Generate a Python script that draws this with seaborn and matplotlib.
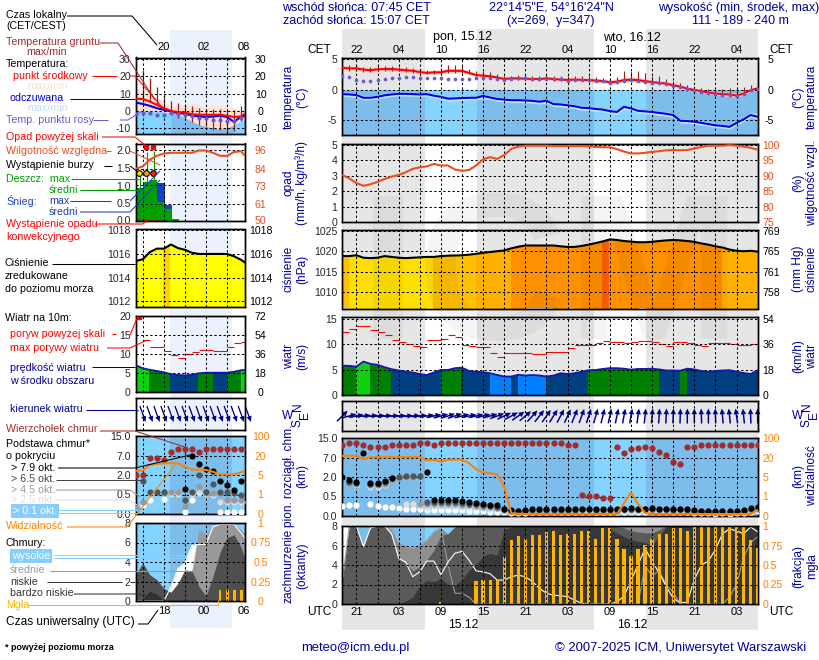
import numpy as np
import matplotlib
matplotlib.use("Agg")
import matplotlib.pyplot as plt
import seaborn as sns

nan = float("nan")

# --- main panel, hourly from 19 UTC ---
temp_mid = [3.6,3.5,3.5,3.3,3.2,3.35,3.4,3.4,3.3,3.2,3.1,2.9,2.75,2.85,2.85,3.1,3.1,3.1,2.75,2.4,2.3,2.2,2.0,1.75,1.85,1.85,1.8,1.75,1.75,1.85,1.75,1.65,1.6,1.65,1.6,1.55,1.5,1.4,1.2,1.3,1.55,1.65,1.55,1.4,1.25,1.1,1.0,0.7,0.5,0.15,-0.05,-0.25,-0.5,-0.65,-0.75,-0.8,-1.0,-0.65,-0.1,0.2]
temp_max = [4.0,3.9,3.9,3.7,3.6,3.75,3.8,3.8,3.7,3.6,3.5,3.3,3.1,3.2,3.25,3.5,3.5,3.4,3.1,2.7,2.6,2.5,2.3,2.1,2.2,2.2,2.1,2.1,2.1,2.2,2.1,2.0,1.9,2.0,1.95,1.9,1.85,1.75,1.6,1.8,2.0,2.1,2.0,1.8,1.6,1.5,1.4,1.1,0.8,0.5,0.2,0.05,-0.2,-0.35,-0.4,-0.45,-0.6,-0.2,0.2,0.5]
temp_min = [3.3,3.2,3.2,3.0,2.95,3.1,3.1,3.1,3.05,2.9,2.8,2.6,2.5,2.55,2.6,2.8,2.8,2.8,2.5,2.15,2.0,1.9,1.75,1.55,1.6,1.6,1.55,1.5,1.5,1.6,1.5,1.4,1.35,1.4,1.35,1.3,1.2,1.1,0.95,1.05,1.3,1.35,1.25,1.1,1.0,0.85,0.7,0.45,0.2,-0.1,-0.3,-0.5,-0.75,-0.9,-1.0,-1.1,-1.3,-0.9,-0.3,0.0]
ground_max = [nan,4.0,4.0,3.8,3.8,3.9,3.9,3.9,3.8,3.7,3.6,3.4,3.2,3.3,3.6,4.0,4.1,3.9,3.4,3.1,3.0,2.9,2.5,2.3,2.3,2.4,2.4,2.2,2.3,2.4,2.2,2.2,2.3,2.3,2.2,2.2,2.1,1.9,1.8,2.1,3.0,3.1,3.1,2.7,2.3,2.2,1.8,1.4,1.1,0.7,0.6,0.3,0.1,0.0,0.1,0.2,0.2,0.4,0.8,0.6]
ground_min = [nan,3.1,3.1,2.9,2.9,3.0,3.0,3.0,3.0,2.9,2.8,2.7,2.6,2.6,2.6,2.8,2.8,2.8,2.5,2.2,2.1,2.0,1.8,1.6,1.6,1.6,1.5,1.5,1.5,1.6,1.5,1.4,1.4,1.4,1.4,1.3,1.3,1.2,1.0,1.1,1.3,1.4,1.3,1.1,1.0,0.9,0.7,0.5,0.2,-0.2,-0.4,-0.6,-0.8,-1.0,-1.1,-1.1,-1.3,-0.9,-0.2,0.1]
dew_point = [2.3,2.0,1.6,1.4,1.4,1.65,1.8,1.9,1.95,2.0,2.0,1.95,1.9,1.9,1.9,1.8,1.75,1.75,1.8,1.85,1.9,1.9,1.7,1.6,1.8,1.9,1.9,1.75,1.7,1.7,1.8,1.75,1.5,1.6,1.65,1.55,1.45,1.35,1.15,1.3,1.5,1.55,1.45,1.3,1.15,1.05,0.9,0.65,0.45,0.1,-0.1,-0.35,-0.6,-0.75,-0.85,-0.9,-1.05,-0.7,-0.15,0.15]
feel_mid = [-0.75,-0.8,-0.9,-1.35,-1.35,-1.2,-0.95,-0.8,-0.7,-0.7,-0.75,-0.8,-0.75,-1.0,-1.2,-1.5,-1.45,-1.4,-1.35,-1.35,-1.05,-1.3,-1.55,-1.65,-1.75,-1.75,-1.8,-1.85,-2.0,-1.85,-2.4,-2.45,-2.6,-2.75,-3.0,-3.05,-3.2,-3.3,-3.55,-3.7,-2.85,-3.1,-3.5,-3.6,-3.7,-3.85,-4.0,-4.2,-5.15,-5.2,-5.3,-5.5,-5.7,-5.9,-6.0,-6.15,-5.5,-4.9,-4.2,-4.5]
feel_max = [-0.5,-0.5,-0.6,-1.0,-1.0,-0.9,-0.65,-0.5,-0.4,-0.4,-0.45,-0.5,-0.45,-0.7,-0.9,-1.2,-1.15,-1.1,-1.05,-1.05,-0.8,-1.0,-1.25,-1.35,-1.45,-1.45,-1.5,-1.55,-1.7,-1.6,-2.1,-2.15,-2.3,-2.45,-2.7,-2.75,-2.9,-3.0,-3.25,-3.4,-2.6,-2.85,-3.2,-3.3,-3.4,-3.55,-3.7,-3.9,-4.85,-4.9,-5.0,-5.2,-5.4,-5.6,-5.7,-5.8,-5.1,-4.5,-3.8,-4.0]
feel_min = [-1.1,-1.2,-1.3,-1.7,-1.7,-1.55,-1.3,-1.15,-1.05,-1.05,-1.1,-1.15,-1.1,-1.4,-1.6,-1.9,-1.85,-1.8,-1.7,-1.7,-1.45,-1.7,-1.95,-2.05,-2.15,-2.15,-2.2,-2.25,-2.4,-2.25,-2.8,-2.85,-3.0,-3.15,-3.4,-3.45,-3.6,-3.7,-3.95,-4.1,-3.3,-3.5,-3.9,-4.0,-4.1,-4.25,-4.4,-4.6,-5.5,-5.6,-5.7,-5.85,-6.05,-6.25,-6.35,-6.5,-5.9,-5.3,-4.6,-4.9]
humidity = [90.2,89.1,87.6,86.7,87.2,88.0,88.9,89.7,90.2,91.1,92.2,92.7,93.0,93.8,93.3,93.3,92.0,91.6,91.8,93.3,95.3,96.0,95.4,96.7,98.7,99.4,99.7,99.7,99.7,99.7,99.6,99.6,99.6,99.6,99.6,99.5,99.3,99.2,99.2,98.6,97.8,97.2,97.2,97.4,97.7,97.9,98.2,98.3,98.2,98.3,98.8,99.3,99.7,99.7,99.7,99.9,99.7,99.4,99.0,98.4]
pressure = [1018.8,1018.8,1019.0,1018.4,1018.3,1018.4,1018.8,1018.6,1018.4,1018.3,1018.4,1018.5,1018.6,1018.6,1018.8,1018.9,1018.95,1019.0,1019.15,1019.35,1019.6,1019.8,1020.0,1020.2,1020.7,1021.1,1021.4,1021.4,1021.4,1021.4,1021.4,1021.2,1021.05,1021.05,1021.3,1021.6,1022.0,1022.4,1022.9,1022.75,1022.5,1022.35,1022.2,1022.2,1022.3,1022.5,1022.65,1022.75,1022.65,1022.5,1022.3,1021.9,1021.6,1021.2,1020.9,1020.4,1020.1,1020.0,1020.1,1019.9]
pressure_class = [1]+[0]*12+[1]*6+[2]*5+[3]*13+[4]+[3]*16+[2]*5
wind_speed = [5.8,5.75,5.6,6.6,6.15,5.95,5.5,5.1,4.85,4.6,4.45,4.15,3.95,4.45,4.95,4.95,5.3,5.4,4.75,4.6,4.5,4.3,3.95,3.65,3.65,4.0,3.85,3.95,3.85,3.65,3.85,4.3,4.15,4.3,4.6,4.9,4.95,5.15,5.3,5.3,5.2,5.0,5.15,5.15,5.2,5.05,4.85,4.85,4.8,5.2,5.05,4.75,4.6,4.75,4.85,4.9,4.6,4.35,4.15,4.9]
wind_class = [2]*2+[3]*2+[2]*3+[1]*7+[2]*3+[1]*4+[0]*3+[1]+[0]*4+[1]*6+[2]*10+[1]*3+[2]+[1]*10
wind_gust = [12.4,13.0,13.7,13.7,12.9,12.4,11.8,10.9,10.4,10.1,9.65,9.45,10.9,10.9,11.1,11.8,11.4,9.85,9.65,9.45,9.45,8.3,7.5,8.25,8.25,8.25,8.25,8.05,8.05,8.45,8.45,8.45,9.25,9.85,9.85,9.85,10.3,10.6,10.4,10.4,10.25,10.4,10.6,10.6,10.4,10.05,9.65,10.4,10.4,10.25,9.85,9.65,10.25,10.25,10.25,10.05,9.9,9.9,10.05]
wind_angle = [45,14,10,6,5,4,4,3,3,3,4,6,8,12,15,18,18,14,12,12,13,15,20,25,28,35,40,48,52,55,58,62,65,68,70,72,74,76,78,78,80,80,82,84,85,86,87,88,88,90,90,92,90,92,95,96,98,96,92,90]
cloud_top = [12.3,12.8,12.8,12.0,11.3,11.3,11.3,12.0,12.0,12.0,12.0,12.8,12.8,12.3,12.8,12.8,12.8,12.8,12.8,12.8,12.8,12.8,12.8,12.8,12.8,12.8,12.8,12.8,12.8,12.8,12.8,12.8,12.0,12.0,0.65,0.52,0.52,0.47,0.47,11.3,9.0,10.4,10.9,11.3,10.9,9.4,8.0,5.8,5.3,11.3,11.3,12.0,12.0,12.0,12.0,12.0,12.0,12.0,12.0,12.0]
base_79 = [2.1,1.78,1.6,8.8,1.52,1.52,1.7,1.96,nan,nan,nan,nan,3.3,0.41,0.41,0.4,0.41,0.38,0.36,0.33,0.31,0.29,0.27,0.19,0.155,0.14,0.155,0.17,0.17,0.17,0.17,0.17,0.17,0.17,0.19,0.19,0.17,0.17,0.17,0.17,0.19,0.21,0.19,0.19,0.21,0.19,0.19,0.17,0.19,0.17,0.155,0.14,0.14,0.13,0.14,0.13,0.14,0.155,0.2,0.23]
base_65 = [nan,1.65,1.55,nan,1.45,1.45,1.6,1.9,2.1,2.2,2.2,2.3,0.36,0.36,0.36,0.35,0.36,0.34,0.32,0.3,0.28,0.26,0.24,0.17,0.14,0.125,0.14,0.15,0.15,0.15,0.15,0.15,0.15,0.15,0.17,0.17,0.15,0.15,0.15,0.15,0.17,0.19,0.17,0.17,0.19,0.17,0.17,0.15,0.17,0.15,0.14,0.125,0.125,0.115,0.125,0.115,0.125,0.14,0.18,0.2]
base_45 = [nan,1.55,1.45,nan,1.35,1.35,1.5,1.8,2.1,2.2,2.2,0.31,0.3,0.3,0.3,0.3,0.3,0.29,0.27,0.26,0.24,0.22,0.2,0.15,0.12,0.11,0.12,0.13,0.13,0.13,0.13,0.13,0.13,0.13,0.15,0.15,0.13,0.13,0.13,0.13,0.15,0.16,0.15,0.15,0.16,0.15,0.15,0.13,0.15,0.13,0.12,0.11,0.11,0.1,0.11,0.1,0.11,0.12,0.15,0.17]
base_25 = [nan,nan,1.35,nan,1.25,1.25,1.4,nan,nan,0.31,0.31,0.26,0.24,0.25,0.25,0.25,0.25,0.24,0.22,0.22,0.2,0.18,0.17,0.13,0.1,0.09,0.1,0.11,0.11,0.11,0.11,0.11,0.11,0.11,0.13,0.13,0.11,0.11,0.11,0.11,0.13,0.14,0.13,0.13,0.14,0.13,0.13,0.11,0.13,0.11,0.1,0.09,0.09,0.08,0.09,0.08,0.09,0.1,0.13,0.15]
base_01 = [0.26,0.27,0.27,nan,0.31,0.26,0.24,0.23,0.2,0.18,0.18,0.18,0.16,0.15,0.16,0.16,0.16,0.15,0.13,0.12,0.12,0.11,0.11,0.1,0.08,0.07,0.08,0.09,0.09,0.09,0.09,0.09,0.09,0.09,0.1,0.1,0.09,0.09,0.09,0.09,0.1,0.11,0.1,0.1,0.11,0.1,0.1,0.09,0.1,0.09,0.08,0.07,0.07,0.06,0.07,0.06,0.07,0.08,0.1,0.12]
visibility = [27,27,27,18.8,21,21.5,21.5,21.5,21.5,21.5,21.7,21.7,17.7,18.2,16.7,18.3,18.3,18.3,15.7,11,8.5,7.8,7,3.04,0.14,0.12,0.1,0.1,0.1,0.1,0.1,0.1,0.1,0.1,0.1,0.1,0.1,0.1,0.1,0.1,0.65,1.8,0.62,0.17,0.1,0.1,0.1,0.1,0.1,0.1,0.1,0.1,0.1,0.1,0.1,0.1,0.1,0.1,0.1,0.31]
cloud_high = [8,8,8,5.9,7.8,8,8,7.2,4.7,4.3,2.8,3.3,4.4,4.4,3.0,4.3,5.2,5.4,4.5,3.4,3.3,3.1,2.45,2.45,2.8,2.95,2.8,2.3,1.6,1.1,0.9,0.85,0.75,0.4,0.07,0,0,0,0,0.2,0.8,2.4,4.0,5.7,4.4,3.2,1.8,0.6,0.1,0.2,2.5,4.0,4.4,5.6,7.2,7.7,7.5,7.2,7.9,7.4]
cloud_mid = [2.4,8,8,5.9,7.8,8,8,7.6,6.2,5.9,5.7,6.0,6.5,7.4,7.8,4.1,1.1,1.1,0.7,0,0,0,0,0,0,0,0,0,0,0,0,0,0,0,0,0,0,0,0,0,0,0,0,3.9,2.9,3.4,2.0,1.2,0,0,0,0,0,0,0,0.7,2.0,4.8,6.3,6.9]
cloud_total = [2.4,8,8,5.9,7.8,8,8,7.6,6.2,5.9,5.7,6.0,6.5,7.4,7.8,7.2,7.9,8,8,8,8,8,8,8,8,8,8,8,8,8,8,8,8,8,8,8,8,8,8,8,8,8,8,7.95,7.95,8,8,8,8,8,8,8,8,8,8,8,8,8,8,8]
cloud_low = [2.4,8,8,5.8,7.9,8,8,7,4.6,4.2,3.4,3.8,4.5,5.5,7,7.2,7.9,8,8,8,8,8,8,8,8,8,8,8,8,8,8,8,8,8,8,8,8,8,8,8,7.8,7.5,7.4,7.3,7.3,7.6,8,8,8,8,8,8,8,8,8,8,8,8,8,8]
cloud_vlow = [0,0,0,0,0,0,0,0,0,0.3,0.7,1.9,2.4,2.3,2.6,2.0,1.9,2.5,3.5,4.0,4.9,5.2,5.0,7.6,7.9,8,8,8,8,8,8,8,8,8,8,8,8,8,7.7,7.3,6.9,6.6,6.4,6.3,6.0,7.0,7.9,8,8,8,8,8,8,8,8,8,8,8,8,8]
fog = [0,0,0,0,0,0,0,0,0,0,0,0,0,0,0.02,0,0,0,0,0.30,0.31,0.31,0.31,0.60,0.82,0.87,0.83,0.89,0.88,0.92,0.93,0.88,0.90,0.90,0.94,0.94,0.83,0.98,0.97,0.83,0.70,0.61,0.70,0.76,0.83,0.90,0.90,0.97,0.97,0.94,1,1,1,1,1,1,1,1,0.82,0.72]

# --- legend panel, hourly ---
s_temp = [7,6.9,5.4,3.5,1.5,0,-0.8,-1,-2,-2.3,-2.3,-2.3,-2.3,-2.9,-3.6,-3.3,-0.4]
s_temp_max = [13.6,11,10,7.3,5.4,2.5,3.5,3.5,4.4,3.5,2.5,2.9,2.9,2.5,1.5,-0.4,1.5]
s_blue_top = [0,0,0,0,-0.5,-1,-2,-4,-6,-8,-9,-10,-10.5,-10,-8,-5.5,-4.5]
s_feel = [4.8,4,2.9,1.5,0.6,-0.4,-1.3,-1.7,-2.7,-3.3,-3.6,-3.3,-2.9,-3.6,-6.5,-3.3,-2.9]
s_dew = [-2,-1.3,-1.3,-2.3,-2.7,-1.3,-1.7,-2.3,-3.3,-4.2,-4.2,-5.2,-5.2,-6.2,-5.8,-4.2,nan]
s_ground_max = [nan,24,19,13.6,9,5.7,4.8,3.5,2.5,1.5,1,1,1,0.6,0.6,2.5,nan]
s_ground_min = [nan,7,5,3.5,1.5,-1.8,-4.3,-4.3,-6.5,-8,-9,-11,-11,-13,-12,-6,nan]
s_rain = [0.93,1.1,1.17,0.52,0.33,0.05]
s_snow = [0,0,0,1.08,0.43,0]
s_rain_max = [1.4,1.95,2.0,nan,nan,nan]
s_humidity = [84,85.5,90,92.5,94,94.5,94.5,94.5,94.5,96,96,94.5,92.5,92.5,95,95.5,90]
s_pressure = [1015.4,1015.55,1016.15,1016.45,1016.45,1016.8,1016.5,1016.35,1016.1,1016,1016,1016,1016,1016,1015.8,1015.5,1015.1]
s_pressure_class = [0,0,0,0,1]+[0]*11
s_wind = [7,6.2,5.8,5.5,5.15,4.7,4.45,4.35,4.5,4.9,5.05,5.05,5.05,5.05,5.3,5.7,5.8]
s_wind_class = [3,3,2,2,2,1,1,1,1,2,2,1,1,2,2,3]
s_gust = [nan,13.5,11.8,11.8,10.65,9.7,8.9,9.9,10.5,10.9,10.9,10.65,10.65,11.8,12.75,13]
s_angle = [-70]*17
s_top = [2,2,6.3,6.3,5.9,8.6,9.6,9.6,9.6,8.6,9.6,9.6,9.6,9.6,9.6,9.6,9.6]
s_b79 = [nan,nan,nan,nan,nan,nan,nan,0.9,7.0,4.75,3.6,3.1,1.55,1.25,0.87,1.55,1.95]
s_b65 = [nan,1.55,0.7,0.7,0.7,nan,nan,0.37,0.7,2.0,0.7,1.3,0.7,0.7,0.6,0.5,1.5]
s_b45 = [0.15,0.3,nan,nan,0.62,0.7,0.7,0.2,0.7,1.16,0.62,0.6,0.6,0.35,0.35,0.35,0.3]
s_b25 = [nan,nan,nan,nan,nan,0.55,0.55,nan,0.55,0.6,0.55,0.5,0.3,0.3,0.3,0.3,0.3]
s_b01 = [nan,0.24,0.37,nan,0.38,nan,nan,0.06,0.37,nan,nan,nan,0.06,0.06,0.06,0.06,nan]
s_vis = [8.3,8.3,12.8,13.5,14,14,14,11.4,9.4,9,8.9,7.5,5.5,5.5,5.5,7,8.9]
s_high = [0,0,0,0,0,1.4,3.3,3.9,5.7,5.8,5.8,7.6,7.85,7.85,7.85,7,6]
s_mid = [0,0,0,0,0,0,0.5,3,3.1,7.3,6.8,7.7,7.85,7.85,7.85,7.3,6.5]
s_low = [2.7,3.9,2.7,2.2,1.3,0.9,1.8,3.2,3.1,1.5,0.5,2.5,5.0,6.5,6.8,5.5,3.4]
s_vlow = [0,0.2,1.0,0.7,0,0,0,0,0,0,0,0,0,0,0,0,0]
s_fog = [0,0,0,0,0,0,0,0,0,0,0,0,0.14,0.14,0.14,0.14,0]

cet_labels = ["22","04","10","16","22","04","10","16","22","04"]
utc_labels = ["21","03","09","15","21","03","09","15","21","03"]

sns.set_style("white")
plt.rcParams["font.family"] = ["Liberation Sans", "DejaVu Sans"]
plt.rcParams["font.size"] = 8.6

W, H = 820, 660
L_SIZE = 7.7
T_SIZE = 7.6
NAVY = "#000099"
ORANGE = "#ff8000"
RHC = "#e8501e"
fig = plt.figure(figsize=(W / 100, H / 100), dpi=100, facecolor="white")

hours = np.arange(60)
s_hours = np.arange(17)
nights = [(0, 11.75), (19.1, 35.75), (43.1, 59)]
days = [(11.75, 19.1), (35.75, 43.1)]
MX0, MPX = 342.3, 7.04


def pixel_axes(zorder):
    a = fig.add_axes([0, 0, 1, 1], zorder=zorder)
    a.set_xlim(0, W)
    a.set_ylim(H, 0)
    a.axis("off")
    a.patch.set_alpha(0)
    return a


bg = pixel_axes(0)
top = pixel_axes(10)


def right_labels(tw, mode):
    # main panels: left aligned, temperature right aligned, legend panels centred
    pads = {"left": 3.3, "right": 11.4, "center": 11}
    tw.tick_params(axis="y", which="both", length=0, labelsize=T_SIZE, pad=pads[mode])
    for lab in tw.get_yticklabels():
        lab.set_ha(mode)


def panel(box, xlim, xgrid, ylim, yticks, ylabels, tw_lim, tw_ticks, tw_labels,
          tw_color="black", mode="left"):
    l, t, r, b = box
    ax = fig.add_axes([l / W, 1 - b / H, (r - l) / W, (b - t) / H], zorder=2)
    ax.patch.set_alpha(0)
    tw = ax.twinx()
    tw.set_zorder(3)
    for a in (ax, tw):
        a.set_xlim(*xlim)
        a.set_xticks(xgrid)
        for s in a.spines.values():
            s.set_linewidth(1.0)
            s.set_color("black")
    ax.set_ylim(*ylim)
    tw.set_ylim(*tw_lim)
    ax.set_yticks(yticks, ylabels)
    tw.set_yticks(tw_ticks, tw_labels)
    ax.tick_params(axis="both", length=0, labelbottom=False, labelsize=T_SIZE, pad=3.6)
    ax.grid(False)
    tw.xaxis.set_visible(True)
    tw.tick_params(axis="x", length=0, labelbottom=False)
    tw.tick_params(axis="y", labelcolor=tw_color)
    right_labels(tw, mode)
    tw.set_axisbelow(False)
    tw.grid(True, color="black", linestyle=(0, (2.2, 2.2)), linewidth=0.75)
    return ax, tw


def curve(ax, x, y, color, lw=1.5, z=3):
    sns.lineplot(x=x, y=y, color=color, linewidth=lw, ax=ax, zorder=z, legend=False)


def dots(ax, x, y, color, size=14, z=3):
    sns.scatterplot(x=x, y=y, color=color, s=size, linewidth=0, ax=ax, zorder=z, legend=False)


def stripes(ax, x, y, classes, palette, floor):
    # aliased so that neighbouring hourly columns leave no seams
    for i, c in enumerate(classes):
        ax.fill_between(x[i:i + 2], floor, y[i:i + 2], facecolor=palette[c], edgecolor="none",
                        linewidth=0, antialiased=False, zorder=1)


def txt(x, y, s, color="black", ha="left", size=L_SIZE, rot=0, **kw):
    top.text(x, y, s, color=color, ha=ha, va="center", fontsize=size, rotation=rot, **kw)


def lead(color, *pts, lw=0.75):
    xs, ys = zip(*pts)
    top.plot(xs, ys, color=color, linewidth=lw, solid_capstyle="butt")


def night_day_fill(ax, floor, ceil, night_c="#7cbdec", day_c="#85d3ff"):
    for a, b in nights:
        ax.fill_between([a, b], floor, ceil, color=night_c, linewidth=0, zorder=0.5)
    for a, b in days:
        ax.fill_between([a, b], floor, ceil, color=day_c, linewidth=0, zorder=0.5)


def legend_blue(ax, x, floor, ceil):
    ax.fill_between(x, floor, ceil, color="#85d3ff", linewidth=0, zorder=0.4)


# backdrop bands
for a, b in nights:
    bg.fill_between([MX0 + a * MPX, MX0 + b * MPX], 29, 630, color="#e6e6e6", linewidth=0)
bg.fill_between([170, 232], 30, 628, color="#ebf2fd", linewidth=0)

M_X = (0, 59)
M_GRID = list(range(2, 60, 3))
S_X = (0, 15.6)
S_GRID = [1, 4, 7, 10, 13]
M_L, M_R = 342.3, 757.7
S_L, S_R = 135.7, 245.3

# ---------- temperature, main ----------
ax, tw = panel((M_L, 57.5, M_R, 135), M_X, M_GRID, (-7.5, 5.3), [-5, 0, 5], ["-5", "0", "5"],
               (-7.5, 5.3), [-5, 0, 5], ["-5", "0", "5"], mode="right")
night_day_fill(ax, -7.5, 0)
ax.fill_between(hours, temp_min, temp_max, color="#ffc8c8", linewidth=0, zorder=1)
ax.fill_between(hours, feel_min, feel_max, color="#bfe6ff", linewidth=0, zorder=1)
ax.vlines(hours, ground_min, ground_max, color="#a01c1c", linewidth=0.8, zorder=2)
curve(tw, hours, temp_mid, "#ff0000")
curve(tw, hours, feel_mid, "#0000e0")
dots(tw, hours, dew_point, "#6a5acd", size=7)
tw.set_ylim(-7.5, 5.3)

# ---------- precipitation / humidity, main ----------
ax, tw = panel((M_L, 144, M_R, 222), M_X, M_GRID, (0, 5.05), [0, 1, 2, 3, 4, 5], list("012345"),
               (75, 100.25), [75, 80, 85, 90, 95, 100], ["75", "80", "85", "90", "95", "100"], RHC)
curve(tw, hours, humidity, RHC)
tw.set_ylim(75, 100.25)

# ---------- pressure, main ----------
ax, tw = panel((M_L, 230, M_R, 308.5), M_X, M_GRID, (1005.95, 1025.2), [1010, 1015, 1020, 1025],
               ["1010", "1015", "1020", "1025"], (1005.95, 1025.2), [1010, 1015, 1020, 1025],
               ["758", "761", "765", "769"])
stripes(ax, hours, pressure, pressure_class, ["#ffdf00", "#ffc000", "#ffb000", "#ff9000", "#ff6000"], 1005.95)
curve(tw, hours, pressure, "black")
tw.set_ylim(1005.95, 1025.2)

# ---------- wind, main ----------
ax, tw = panel((M_L, 317, M_R, 395), M_X, M_GRID, (0, 15.4), [0, 5, 10, 15], ["0", "5", "10", "15"],
               (0, 15.4), [0, 5, 10, 15], ["0", "18", "36", "54"])
stripes(ax, hours, wind_speed, wind_class, ["#0080ff", "#004080", "#008000", "#10d010"], 0)
ax.hlines(wind_gust, hours[:-1], hours[1:], color="#ff0000", linewidth=0.8, zorder=2)
curve(tw, hours, wind_speed, "#1818a8", lw=1.3)
tw.set_ylim(0, 15.4)

# ---------- wind direction, main ----------
ax, tw = panel((M_L, 401, M_R, 431), M_X, M_GRID, (-1, 1), [], [], (-1, 1), [], [])
rad = np.radians(wind_angle)
ax.quiver(hours, np.zeros(60), np.cos(rad), np.sin(rad), angles="uv", units="dots",
          scale_units="dots", scale=1 / 15, pivot="mid", width=1.5, headwidth=3.6,
          headlength=3.8, headaxislength=3.8, color="#000090", zorder=3, clip_on=False)

# ---------- cloud base, both panels use the same piecewise scale ----------
km_ticks = [0, 0.5, 2, 7, 15]
vis_ticks = [0, 1, 5, 20, 100]
pos_ticks = [0, 1, 2, 3, 4]


def set_piecewise(a, ticks, lim, labels, mode=None):
    a.set_yscale("function", functions=(lambda v: np.interp(v, ticks, pos_ticks),
                                        lambda p: np.interp(p, pos_ticks, ticks)))
    a.set_ylim(*lim)
    a.minorticks_off()
    a.set_yticks(ticks, labels)
    a.tick_params(axis="y", which="both", length=0)
    if mode:
        right_labels(a, mode)


def km_to_vis(v):
    return np.interp(np.interp(v, km_ticks, pos_ticks), pos_ticks, vis_ticks)


def base_panel(box, x, top_s, b79, b65, b45, b25, b01, vis, xlim, grid, mode):
    km_lab = ["0.0", "0.5", "2.0", "7.0", "15.0"]
    vis_lab = ["0", "1", "5", "20", "100"]
    ax, tw = panel(box, xlim, grid, (0, 15), km_ticks, km_lab,
                   (0, 100), vis_ticks, vis_lab, ORANGE, mode=mode)
    set_piecewise(ax, km_ticks, (0, 15), km_lab)
    if mode == "left":
        night_day_fill(ax, 0, 15)
    else:
        legend_blue(ax, x, 0, 15)
        ax.fill_between([4.9, 13.7], 0, 15, color="#7cbdec", linewidth=0, zorder=0.5)
    sizes = 20
    dots(tw, x, km_to_vis(b01), "white", size=sizes, z=2.6)
    dots(tw, x, km_to_vis(b25), "#dddddd", size=sizes, z=2.7)
    dots(tw, x, km_to_vis(b45), "#999999", size=sizes, z=2.8)
    dots(tw, x, km_to_vis(b65), "#555555", size=sizes, z=2.9)
    dots(tw, x, km_to_vis(b79), "black", size=sizes, z=3)
    dots(tw, x, km_to_vis(top_s), "#a52a2a", size=sizes, z=3)
    curve(tw, x, vis, ORANGE, z=3.2)
    set_piecewise(tw, vis_ticks, (0, 100), vis_lab, mode)
    tw.set_xlim(*xlim)
    ax.set_xlim(*xlim)
    return ax, tw


base_panel((M_L, 438, M_R, 516), hours, cloud_top, base_79, base_65, base_45, base_25, base_01,
           visibility, M_X, M_GRID, "left")

# ---------- clouds and fog, main ----------
ax, tw = panel((M_L, 526, M_R, 604), M_X, M_GRID, (0, 8), [0, 2, 4, 6, 8], list("02468"),
               (0, 1), [0, 0.25, 0.5, 0.75, 1], ["0", "0.25", "0.5", "0.75", "1"], ORANGE)
night_day_fill(ax, 0, 8)
ax.fill_between(hours, 0, cloud_high, color="white", linewidth=0, zorder=1)
ax.fill_between(hours, 0, cloud_total, color="#8f8f8f", linewidth=0, zorder=1.1)
ax.fill_between(hours, 0, cloud_low, color="#5a5a5a", linewidth=0, zorder=1.2)
ax.fill_between(hours, 0, cloud_vlow, color="#383838", linewidth=0, zorder=1.3)
curve(ax, hours, cloud_mid, "#9a9a9a", lw=0.8, z=2)
curve(ax, hours, cloud_high, "white", lw=0.8, z=2.1)
tw.bar(hours, fog, width=0.46, color="#ffb400", linewidth=0, antialiased=False, zorder=2)
ax.set_ylim(0, 8)
ax.set_xlim(*M_X)
tw.set_ylim(0, 1)
tw.set_xlim(*M_X)

# ---------- temperature, legend ----------
ax, tw = panel((S_L, 57.5, S_R, 134), S_X, S_GRID, (-13.5, 31), [-10, 0, 10, 20, 30],
               ["-10", "0", "10", "20", "30"], (-13.5, 31), [-10, 0, 10, 20, 30],
               ["-10", "0", "10", "20", "30"], mode="center")
legend_blue(ax, s_hours, -13.5, s_blue_top)
xs_band = s_hours[5:15]
ax.fill_between(xs_band, -13.5, s_blue_top[5:15], color="#7cbdec", linewidth=0, zorder=0.5)
ax.fill_between(s_hours, s_blue_top, s_temp_max, color="#fde3d6", linewidth=0, zorder=1)
ax.vlines(s_hours, s_ground_min, s_ground_max, color="#a01c1c", linewidth=0.9, zorder=2)
curve(tw, s_hours, s_feel, "#0000e0")
curve(tw, s_hours, s_temp, "#ff0000")
dots(tw, s_hours, s_dew, "#6a5acd", size=9)
ax.set_xlim(*S_X)
tw.set_xlim(*S_X)
tw.set_ylim(-13.5, 31)

# ---------- precipitation, legend ----------
ax, tw = panel((S_L, 143.5, S_R, 220.5), S_X, S_GRID, (0, 2.2), [0, 0.5, 1, 1.5, 2],
               ["0.0", "0.5", "1.0", "1.5", "2.0"], (50, 100.6), [50, 61, 73, 84, 96],
               ["50", "61", "73", "84", "96"], RHC, mode="center")
bar_x = np.arange(6) + 0.6
ax.bar(bar_x, s_snow, width=1, color="#1a3ec8", linewidth=0, zorder=1)
ax.bar(bar_x, s_rain, width=1, color="#00a000", linewidth=0, zorder=1.1)
ax.vlines(bar_x, s_rain, s_rain_max, color="#00a000", linewidth=0.9, zorder=2)
ax.hlines(0.01, 0, 4.2, color="#ff0000", linewidth=1, linestyle=(0, (3, 2)), zorder=2)
curve(tw, s_hours, s_humidity, RHC)
dots(ax, bar_x[:3] - 0.1, [1.35, 1.35, 1.35], "black", size=24, z=3)
for xp, col in zip(bar_x[:3] - 0.1, ["#ffe000", "#ffa000", "#ff2000"]):
    dots(ax, [xp], [1.35], col, size=11, z=3.1)
ax.scatter(bar_x[1:3] - 0.1, [2.1, 2.1], marker="s", s=9, color="#ff0000", zorder=3)
ax.set_ylim(0, 2.2)
ax.set_xlim(*S_X)
tw.set_xlim(*S_X)
tw.set_ylim(50, 100.6)

# ---------- pressure, legend ----------
ax, tw = panel((S_L, 229.5, S_R, 306.5), S_X, S_GRID, (1011.55, 1018.07), [1012, 1014, 1016, 1018],
               ["1012", "1014", "1016", "1018"], (1011.55, 1018.07), [1012, 1014, 1016, 1018],
               ["1012", "1014", "1016", "1018"], mode="center")
stripes(ax, s_hours, s_pressure, s_pressure_class, ["#ffff00", "#ffd000"], 1011.55)
curve(tw, s_hours, s_pressure, "black")
tw.set_ylim(1011.55, 1018.07)
ax.set_xlim(*S_X)
tw.set_xlim(*S_X)

# ---------- wind, legend ----------
ax, tw = panel((S_L, 315.5, S_R, 392), S_X, S_GRID, (0, 20), [0, 5, 10, 15, 20], ["0", "5", "10", "15", "20"],
               (0, 72), [0, 18, 36, 54, 72], ["0", "18", "36", "54", "72"], mode="center")
stripes(ax, s_hours, s_wind, s_wind_class, ["#0080ff", "#004080", "#008000", "#10d010"], 0)
ax.hlines(s_gust, s_hours[:-1], s_hours[1:], color="#ff0000", linewidth=0.8, zorder=2)
ax.scatter([0.45], [19.6], marker="s", s=7, color="#ff0000", zorder=3)
curve(tw, s_hours, np.array(s_wind) * 3.6, "#1818a8", lw=1.3)
tw.set_ylim(0, 72)
ax.set_xlim(*S_X)
tw.set_xlim(*S_X)

# ---------- wind direction, legend ----------
ax, tw = panel((S_L, 398, S_R, 430), S_X, S_GRID, (-1, 1), [], [], (-1, 1), [], [], mode="center")
s_rad = np.radians(s_angle)
ax.quiver(s_hours[:16] + 1, np.zeros(16), np.cos(s_rad[:16]), np.sin(s_rad[:16]), angles="uv", units="dots",
          scale_units="dots", scale=1 / 17, pivot="mid", width=1.3, headwidth=4,
          headlength=4.5, headaxislength=4.5, color="#000090", zorder=3, clip_on=False)

# ---------- cloud base, legend ----------
base_panel((S_L, 436, S_R, 514), s_hours, s_top, s_b79, s_b65, s_b45, s_b25, s_b01, s_vis,
           S_X, S_GRID, "center")

# ---------- clouds, legend ----------
ax, tw = panel((S_L, 523, S_R, 601), S_X, S_GRID, (0, 8), [0, 2, 4, 6, 8], list("02468"),
               (0, 1), [0, 0.25, 0.5, 0.75, 1], ["0", "0.25", "0.5", "0.75", "1"], ORANGE, mode="center")
legend_blue(ax, s_hours, 0, 8)
ax.fill_between([4.9, 13.7], 0, 8, color="#7cbdec", linewidth=0, zorder=0.5)
ax.fill_between(s_hours, 0, s_high, color="white", linewidth=0, zorder=1)
ax.fill_between(s_hours, 0, s_mid, color="#999999", linewidth=0, zorder=1.1)
ax.fill_between(s_hours, 0, s_low, color="#4f4f4f", linewidth=0, zorder=1.2)
ax.fill_between(s_hours, 0, s_vlow, color="#303030", linewidth=0, zorder=1.3)
curve(ax, s_hours, s_high, "white", lw=0.8, z=2)
tw.bar(s_hours, s_fog, width=0.42, color="#ffb400", linewidth=0, zorder=2)
ax.set_ylim(0, 8)
ax.set_xlim(*S_X)
tw.set_ylim(0, 1)
tw.set_xlim(*S_X)

# ---------- header, footer, time labels ----------
txt(282, 8, "wschód słońca: 07:45 CET", NAVY, size=9)
txt(283, 21, "zachód słońca: 15:07 CET", NAVY, size=9)
txt(551, 8, "22°14'5\"E, 54°16'24\"N", NAVY, ha="center", size=9)
txt(551, 21, "(x=269,  y=347)", NAVY, ha="center", size=9)
txt(819, 8, "wysokość (min, środek, max)", NAVY, ha="right", size=9)
txt(740, 21, "111 - 189 - 240 m", NAVY, ha="center", size=9)
txt(463, 37, "pon, 15.12", ha="center", size=9)
txt(632, 37, "wto, 16.12", ha="center", size=9)
txt(301, 648, "meteo@icm.edu.pl", NAVY, size=9.4)
txt(555, 648, "© 2007-2025 ICM, Uniwersytet Warszawski", NAVY, size=9.4)
txt(5, 648, "* powyżej poziomu morza", size=6.4, fontweight="bold")
for side_x in (319, 781):
    txt(side_x, 50, "CET", ha="center", size=8.6)
    txt(side_x, 612, "UTC", ha="center", size=8.6)
for i in range(10):
    x_px = MX0 + (2 + 6 * i) * MPX
    txt(x_px, 50, cet_labels[i], ha="center", size=8)
    txt(x_px, 612, utc_labels[i], ha="center", size=8)
txt(463, 625, "15.12", ha="center", size=8.8)
txt(632, 625, "16.12", ha="center", size=8.8)
for x_px, a, b in zip([164, 204, 244], ["20", "02", "08"], ["18", "00", "06"]):
    txt(x_px, 47, a, ha="center", size=8)
    txt(x_px, 611, b, ha="center", size=8)

# faint logo behind the panels
top.text(550, 285, "ICM", color="black", alpha=0.045, ha="center", va="center",
         fontsize=150, fontweight="bold")

# ---------- axis titles ----------
titles = [(97, "temperatura", "(°C)", "(°C)", "temperatura"),
          (183, "opad", "(mm/h, kg/m³/h)", "(%)", "wilgotność wzgl."),
          (269, "ciśnienie", "(hPa)", "(mm Hg)", "ciśnienie"),
          (356, "wiatr", "(m/s)", "(km/h)", "wiatr"),
          (476, "pion. rozciągł. chm.", "(km)", "(km)", "widzialność"),
          (566, "zachmurzenie", "(oktanty)", "(frakcja)", "mgła")]
for y_px, a, b, c, d in titles:
    txt(289, y_px, a, NAVY, ha="center", rot=90, size=8.6)
    txt(302, y_px, b, NAVY, ha="center", rot=90, size=8.6)
    txt(798, y_px, c, NAVY, ha="center", rot=90, size=8.6)
    txt(812, y_px, d, NAVY, ha="center", rot=90, size=8.6)
for x_w, x_n, x_e in ((288, 298, 305), (798, 807, 814)):
    txt(x_w, 416, "W", NAVY, ha="center", size=8.6)
    txt(x_n, 407, "N", NAVY, ha="center", size=8.6, rot=90)
    txt(x_n, 423, "S", NAVY, ha="center", size=8.6, rot=90)
    txt(x_e, 415, "E", NAVY, ha="center", size=8.6, rot=90)

# ---------- legend texts and leader lines ----------
BROWN = "#a52a2a"
GREEN = "#00a000"
BLUE = "#0000cc"
SLATE = "#6a5acd"
txt(6, 15, "Czas lokalny")
txt(6, 26, "(CET/CEST)")
lead("black", (67, 16), (132, 16), (157, 45))
txt(6, 42, "Temperatura gruntu", BROWN)
txt(47, 52, "max/min", BROWN, ha="center")
lead(BROWN, (100, 43), (118, 43), (155, 100))
txt(6, 64, "Temperatura:")
txt(13, 76, "punkt środkowy", "#ff0000")
lead("#ff0000", (92, 76), (117, 76))
lead("#ff0000", (130, 76), (135, 76), (162, 107))
txt(27, 86, "max/min", "#ffdfd0")
txt(10, 98, "odczuwana", BLUE)
lead(BLUE, (70, 99), (135, 99))
txt(27, 108, "max/min", "#bfe0ff")
txt(6, 120, "Temp. punktu rosy", SLATE)
lead(SLATE, (93, 120), (108, 120))
lead(SLATE, (120, 120), (128, 120), (142, 111))
txt(6, 137, "Opad powyżej skali", "#ff0000")
lead("#ff0000", (102, 137), (135, 137), (146, 146))
txt(6, 151, "Wilgotność względna", RHC)
lead(RHC, (106, 151), (111, 151))
lead(RHC, (130, 151), (160, 165))
txt(6, 165, "Wystąpienie burzy")
lead("black", (104, 166), (112, 166))
lead("black", (130, 166), (138, 172))
txt(6, 179, "Deszcz:  max", GREEN)
lead(GREEN, (71, 179), (139, 179))
txt(49, 190, "średni", GREEN)
lead(GREEN, (80, 190), (145, 190))
txt(6, 201, "Śnieg:", "#1a3ec8")
txt(49, 201, "max", "#1a3ec8")
lead("#1a3ec8", (70, 201), (111, 201))
lead("#1a3ec8", (130, 201), (160, 171))
txt(49, 212, "średni", "#1a3ec8")
lead("#1a3ec8", (80, 212), (130, 212), (160, 180))
txt(6, 224, "Wystąpienie opadu", "#ff0000")
txt(6, 237, "konwekcyjnego", "#ff0000")
lead("#ff0000", (95, 224), (143, 224), (147, 220))
txt(5, 263, "Ciśnienie")
txt(5, 276, "zredukowane")
txt(5, 289, "do poziomu morza")
lead("black", (52, 264), (135, 264))
txt(5, 318, "Wiatr na 10m:")
txt(10, 334, "poryw powyżej skali", "#ff0000")
lead("#ff0000", (112, 334), (116, 334))
lead("#ff0000", (130, 335), (138, 316))
txt(10, 348, "max porywy wiatru", "#ff0000")
lead("#ff0000", (107, 348), (130, 348), (147, 340))
txt(10, 368, "prędkość wiatru", NAVY)
txt(10, 381, "w środku obszaru", NAVY)
lead(NAVY, (92, 367), (135, 367))
txt(10, 409, "kierunek wiatru", NAVY)
lead(NAVY, (86, 410), (138, 410))
txt(6, 429, "Wierzchołek chmur", BROWN)
lead(BROWN, (100, 431), (135, 431), (185, 447))
txt(6, 444, "Podstawa chmur*")
txt(6, 456, "o pokryciu")
txt(11, 468, "> 7.9 okt.")
lead("black", (58, 468), (135, 468), (190, 455))
txt(11, 479, "> 6.5 okt.", "#444444")
lead("#444444", (56, 480), (143, 480))
txt(11, 490, "> 4.5 okt.", "#999999")
lead("#999999", (56, 490), (130, 490), (140, 497))
txt(11, 500, "> 2.5 okt.", "#dddddd")
lead("#dddddd", (56, 500), (130, 500), (137, 505))
txt(13, 511, "> 0.1 okt.", "white", bbox=dict(facecolor="#87ceff", edgecolor="none", pad=1.5))
lead("#87ceff", (58, 510), (138, 510))
lead("#87ceff", (58, 513), (138, 513))
txt(6, 526, "Widzialność", ORANGE)
lead(ORANGE, (67, 527), (127, 527), (175, 465))
txt(6, 543, "Chmury:")
txt(12, 556, "wysokie", "white", bbox=dict(facecolor="#87ceff", edgecolor="none", pad=1.5))
lead("#87ceff", (54, 555), (186, 555))
lead("#87ceff", (54, 558), (186, 558))
txt(10, 570, "średnie", "#999999")
lead("#999999", (50, 571), (192, 571))
txt(10, 582, "niskie", "#333333")
lead("#333333", (47, 582), (122, 582))
lead("#333333", (130, 582), (135, 582))
txt(10, 593, "bardzo niskie", "#333333")
lead("#333333", (74, 594), (140, 594), (155, 599))
txt(6, 605, "Mgła", "#ffb400")
lead("#ffb400", (27, 605), (218, 605), (218, 600))
txt(6, 622, "Czas uniwersalny (UTC)", size=8.6)
lead("black", (138, 624), (148, 624), (158, 610))

fig.savefig("out.png", dpi=100)
